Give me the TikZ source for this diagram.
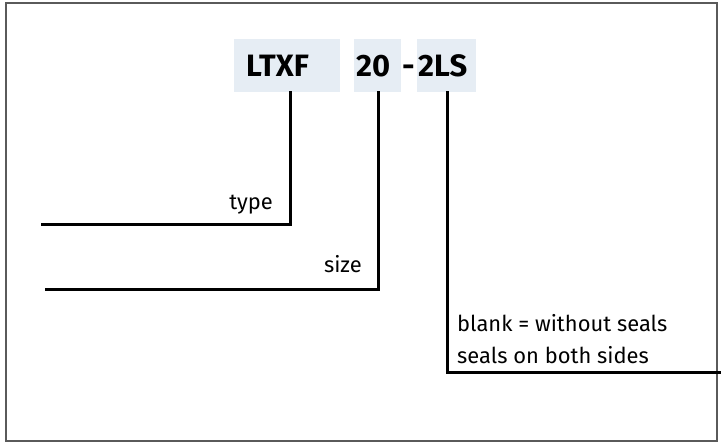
\documentclass[tikz,border=0pt]{standalone}
\usepackage{fontspec}
\setmainfont{Fira Sans}
\begin{document}
\begin{tikzpicture}[x=1bp,y=-1bp,
  codebox/.style={fill=boxblue, inner sep=0pt, minimum height=53bp, anchor=north west},
  codetext/.style={font=\fontsize{31}{31}\selectfont\bfseries, inner sep=0pt, anchor=base west},
  leader/.style={line width=3bp, line cap=rect},
  lbl/.style={font=\fontsize{22}{22}\selectfont, inner sep=0pt},
  frame/.style={draw=framegray, line width=2bp}]
\definecolor{boxblue}{HTML}{E6EDF4}
\definecolor{framegray}{HTML}{5A5A5A}
\useasboundingbox (0,0) rectangle (721,444);
\draw[frame] (6,3) rectangle (717,441);
% code boxes
\node[codebox, minimum width=106bp] (bA) at (234,39) {};
\node[codebox, minimum width=47bp] (bB) at (354,39) {};
\node[codebox, minimum width=59bp] (bC) at (417,39) {};
\node[codetext] (tA) at (246,77) {LTXF};
\node[codetext] (tB) at (356,77) {20};
\node[codetext] (tD) at (402,77) {-};
\node[codetext] (tC) at (418,77) {2LS};
% leader ends
\coordinate (eA) at (42,225);
\coordinate (eB) at (46,290);
\coordinate (eC) at (720,372);
\draw[leader] (bA.south -| 290,0) -- (290,225) -- (eA);
\draw[leader] (bB.south -| 378,0) -- (378,290) -- (eB);
\draw[leader] (bC.south -| 447,0) -- (447,372) -- (eC);
% labels
\node[lbl, anchor=base east] (lA) at (273,210) {type};
\node[lbl, anchor=base east] (lB) at (362,273) {size};
\node[lbl, anchor=base west] (lC1) at (457,332) {blank = without seals};
\node[lbl, anchor=base west] (lC2) at (457,363) {seals on both sides};
\end{tikzpicture}
\end{document}
